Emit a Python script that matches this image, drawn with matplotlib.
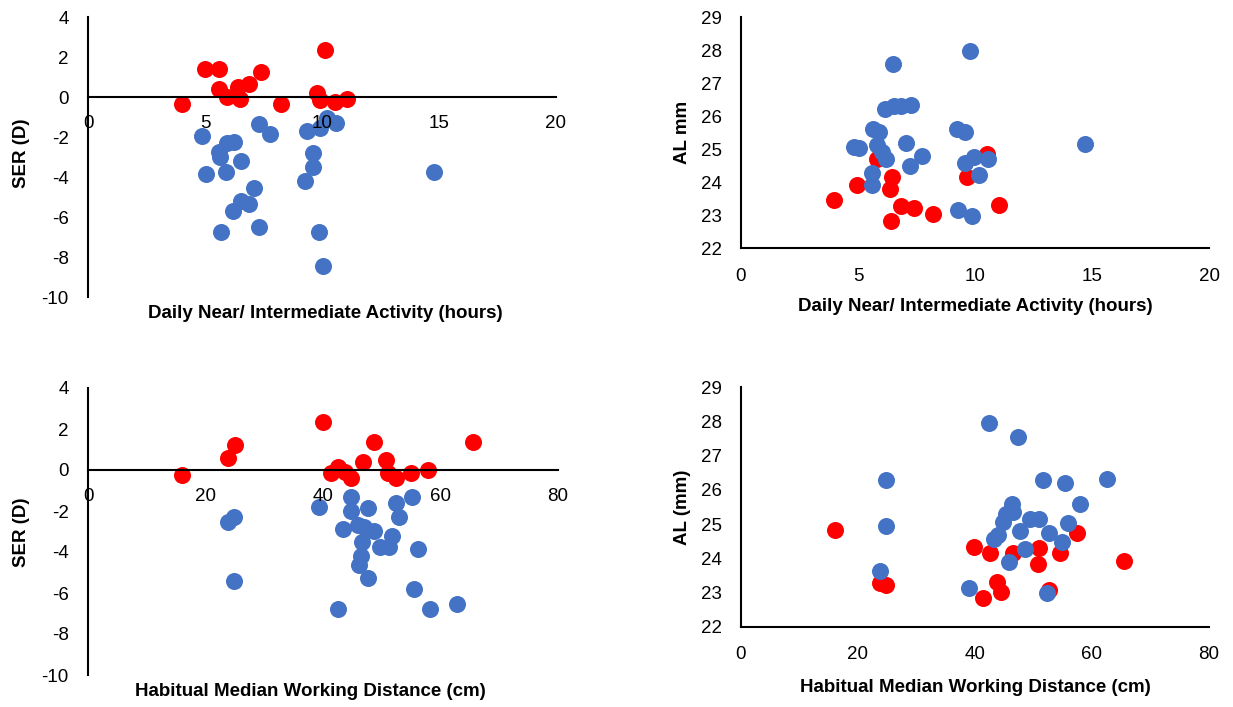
import numpy as np
import matplotlib.pyplot as plt

plt.rcParams['font.family'] = ['Liberation Sans', 'DejaVu Sans']
plt.rcParams['axes.unicode_minus'] = False

RED = "#FF0000"
BLUE = "#4472C4"

# SER vs daily near/intermediate activity
act_red_x = [4.0, 5.0, 5.59, 5.59, 5.92, 6.41, 6.48, 6.86, 7.40, 8.23, 10.13, 9.77, 9.93, 10.55, 11.07]
act_red_ser = [-0.37, 1.38, 1.38, 0.38, 0.02, 0.52, -0.12, 0.65, 1.27, -0.37, 2.37, 0.18, -0.15, -0.23, -0.12]
act_blue_x = [4.86, 5.03, 5.68, 5.90, 6.55, 5.92, 6.23, 5.59, 5.66, 7.29, 7.78, 9.34, 9.93,
              10.60, 10.22, 9.62, 9.62, 9.27, 7.08, 6.53, 6.88, 6.20, 7.30, 9.86, 10.03, 14.77]
act_blue_ser = [-1.95, -3.85, -6.73, -3.73, -3.20, -2.30, -2.23, -2.73, -2.98, -1.35, -1.85, -1.70, -1.57,
                -1.32, -1.07, -2.82, -3.48, -4.20, -4.55, -5.20, -5.37, -5.70, -6.50, -6.73, -8.47, -3.73]

# AL vs daily near/intermediate activity
act_red_x2 = [3.97, 4.97, 5.80, 6.44, 6.37, 6.41, 6.84, 7.38, 8.21, 9.67, 10.53, 11.01]
act_red_al = [23.45, 23.93, 24.71, 24.16, 23.81, 22.83, 23.29, 23.23, 23.05, 24.16, 24.86, 23.32]
act_blue_x2 = [9.80, 6.50, 6.15, 6.55, 6.82, 7.26, 5.65, 5.91, 4.84, 5.06, 5.80, 6.01, 6.20, 7.04,
               7.74, 7.24, 5.61, 5.61, 9.22, 9.57, 9.57, 9.97, 10.57, 10.18, 9.29, 9.88, 14.70]
act_blue_al = [27.97, 27.58, 26.21, 26.32, 26.30, 26.35, 25.62, 25.52, 25.08, 25.04, 25.14, 24.91, 24.71, 25.18,
               24.81, 24.48, 24.29, 23.91, 25.60, 25.52, 24.58, 24.76, 24.71, 24.23, 23.16, 22.98, 25.15]

# SER vs habitual median working distance
dist_red_x = [16.0, 23.8, 25.0, 40.0, 41.4, 42.5, 43.8, 44.8, 46.8, 48.6, 50.7, 51.0, 52.4, 55.0, 57.9, 65.6]
dist_red_ser = [-0.26, 0.60, 1.23, 2.36, -0.13, 0.13, -0.08, -0.37, 0.38, 1.37, 0.49, -0.13, -0.37, -0.13, 0.0, 1.37]
dist_blue_x = [39.3, 23.9, 24.8, 24.9, 42.6, 44.8, 44.8, 47.7, 52.4, 55.1, 52.9, 43.4, 46.0,
               47.0, 48.6, 46.6, 51.7, 49.7, 51.2, 56.2, 46.4, 46.2, 47.6, 55.5, 58.2, 62.8]
dist_blue_ser = [-1.79, -2.54, -2.27, -5.41, -6.79, -1.33, -1.98, -1.87, -1.59, -1.33, -2.28, -2.88, -2.70,
                 -2.80, -2.96, -3.50, -3.22, -3.74, -3.74, -3.87, -4.20, -4.65, -5.29, -5.81, -6.79, -6.53]

# AL vs habitual median working distance
dist_red_x2 = [16.0, 39.8, 42.5, 46.5, 50.9, 50.8, 54.6, 57.5, 23.7, 24.8, 43.7, 44.5, 41.3, 52.6, 65.4]
dist_red_al = [24.83, 24.32, 24.16, 24.15, 24.31, 23.83, 24.15, 24.73, 23.29, 23.22, 23.32, 23.02, 22.83, 23.07, 23.92]
dist_blue_x2 = [42.4, 47.3, 24.8, 51.6, 55.3, 62.6, 58.0, 46.3, 46.5, 44.8, 44.0, 43.2, 47.7,
                49.4, 51.0, 52.6, 55.9, 54.9, 48.6, 45.8, 39.0, 52.3, 24.8, 23.8, 45.3]
dist_blue_al = [27.95, 27.55, 26.28, 26.29, 26.19, 26.33, 25.60, 25.59, 25.36, 25.07, 24.68, 24.55, 24.81,
                25.14, 25.15, 24.73, 25.02, 24.48, 24.26, 23.90, 23.12, 23.00, 24.95, 23.64, 25.30]

W, H = 1233, 707
fig = plt.figure(figsize=(W / 100, H / 100), dpi=100)


def make_axes(left, top, width, height):
    # pixel box -> figure fraction
    return fig.add_axes([left / W, (H - top - height) / H, width / W, height / H])


def style(ax, xlim, xticks, ylim, yticks, zero_line):
    ax.set_xlim(*xlim)
    ax.set_ylim(*ylim)
    ax.set_xticks(xticks)
    ax.set_yticks(yticks)
    for s in ["top", "right"]:
        ax.spines[s].set_visible(False)
    for s in ["left", "bottom"]:
        ax.spines[s].set_linewidth(1.5)
        ax.spines[s].set_color("black")
    if zero_line:
        ax.spines["bottom"].set_position(("data", 0))
    ax.tick_params(axis="both", length=0, labelsize=13.5)
    ax.tick_params(axis="y", pad=14)
    ax.tick_params(axis="x", pad=13 if zero_line else 14)
    ax.patch.set_alpha(0)


def dots(ax, rx, ry, bx, by):
    ax.scatter(rx, ry, s=150, color=RED, linewidths=0, zorder=1)
    ax.scatter(bx, by, s=150, color=BLUE, linewidths=0, zorder=1)


ax1 = make_axes(88, 17, 468, 280)
dots(ax1, act_red_x, act_red_ser, act_blue_x, act_blue_ser)
style(ax1, (0, 20), range(0, 21, 5), (-10, 4), range(-10, 5, 2), True)

ax2 = make_axes(741, 17.3, 468, 231)
dots(ax2, act_red_x2, act_red_al, act_blue_x2, act_blue_al)
style(ax2, (0, 20), range(0, 21, 5), (22, 29), range(22, 30), False)

ax3 = make_axes(88, 388, 470, 287)
dots(ax3, dist_red_x, dist_red_ser, dist_blue_x, dist_blue_ser)
style(ax3, (0, 80), range(0, 81, 20), (-10, 4), range(-10, 5, 2), True)

ax4 = make_axes(741, 387.3, 468, 239.4)
dots(ax4, dist_red_x2, dist_red_al, dist_blue_x2, dist_blue_al)
style(ax4, (0, 80), range(0, 81, 20), (22, 29), range(22, 30), False)


def label(x, y, text, rot=0):
    fig.text(x / W, 1 - y / H, text, fontsize=13.5, fontweight="bold",
             rotation=rot, ha="center", va="center")


label(325, 313, "Daily Near/ Intermediate Activity (hours)")
label(975, 306, "Daily Near/ Intermediate Activity (hours)")
label(310, 692, "Habitual Median Working Distance (cm)")
label(975, 687, "Habitual Median Working Distance (cm)")
label(21, 153, "SER (D)", 90)
label(21, 532, "SER (D)", 90)
label(683, 132, "AL mm", 90)
label(683, 507, "AL (mm)", 90)

fig.savefig("out.png", dpi=100)
